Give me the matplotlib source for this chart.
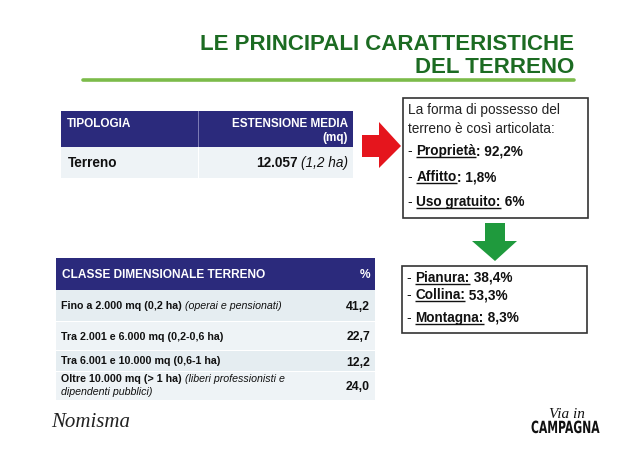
import matplotlib
matplotlib.use('Agg')
import matplotlib.pyplot as plt
from matplotlib.patches import Rectangle, Polygon, PathPatch
from matplotlib.textpath import TextPath
from matplotlib.font_manager import FontProperties
from matplotlib.transforms import Affine2D

plt.rcParams['font.family'] = ['Liberation Sans', 'DejaVu Sans']

# slide content
title_lines = ['LE PRINCIPALI CARATTERISTICHE', 'DEL TERRENO']

top_headers = ['TIPOLOGIA', 'ESTENSIONE MEDIA', '(mq)']
top_type = 'Terreno'
top_value = '12.057'
top_value_note = '(1,2 ha)'

possession_intro = ['La forma di possesso del', 'terreno è così articolata:']
possession_labels = ['Proprietà', 'Affitto', 'Uso gratuito:']
possession_values = [': 92,2%', ': 1,8%', ' 6%']

zone_labels = ['Pianura:', 'Collina:', 'Montagna:']
zone_values = [' 38,4%', ' 53,3%', ' 8,3%']

class_header = ['CLASSE DIMENSIONALE TERRENO', '%']
class_labels = ['Fino a 2.000 mq (0,2 ha)', 'Tra 2.001 e 6.000 mq (0,2-0,6 ha)',
                'Tra 6.001 e 10.000 mq (0,6-1 ha)', 'Oltre 10.000 mq (> 1 ha)']
class_notes = ['(operai e pensionati)', '', '', '(liberi professionisti e\ndipendenti pubblici)']
class_pct = [41.2, 22.7, 12.2, 24.0]

# colours
NAVY = '#2b2a7c'
TITLE_GREEN = '#1c6b22'
LINE_GREEN = '#7cbb4a'
ROW_A = '#e5edf1'
ROW_B = '#eef3f6'
INK = '#111111'

fig = plt.figure(figsize=(6.4, 4.53), dpi=100)
ax = fig.add_axes([0, 0, 1, 1])
ax.set_xlim(0, 640)
ax.set_ylim(453, 0)
ax.axis('off')
renderer = fig.canvas.get_renderer()


def text_width(t):
    # 1 px == 1 data unit on this axes
    return t.get_window_extent(renderer=renderer).width


def draw_runs(x, y, runs, size):
    # runs: (text, weight, style, underline)
    for s, weight, style, underline in runs:
        t = ax.text(x, y, s, fontsize=size, fontweight=weight, fontstyle=style,
                    va='baseline', ha='left', color=INK)
        w = text_width(t)
        if underline:
            ax.plot([x, x + w], [y + 2.2, y + 2.2], color=INK, lw=1.0,
                    solid_capstyle='butt')
        x += w
    return x


# title
for line, yb in zip(title_lines, [50, 73]):
    ax.text(574, yb, line, fontsize=16, fontweight='bold', color=TITLE_GREEN,
            ha='right', va='baseline')
ax.plot([83, 574], [80, 80], color=LINE_GREEN, lw=2.6, solid_capstyle='round')

# top table
ax.add_patch(Rectangle((61, 111), 292, 36, color=NAVY, lw=0))
ax.plot([198, 198], [111, 147], color='#8c8cc0', lw=0.6)
ax.add_patch(Rectangle((61, 147), 292, 31, color=ROW_B, lw=0))
ax.plot([198, 198], [147, 178], color='white', lw=0.8)
ax.text(67, 127, top_headers[0], fontsize=8.5, fontweight='bold', color='white', va='baseline')
ax.text(348, 127, top_headers[1], fontsize=8.5, fontweight='bold', color='white',
        va='baseline', ha='right')
ax.text(348, 141, top_headers[2], fontsize=8.5, fontweight='bold', color='white',
        va='baseline', ha='right')
ax.text(68, 167, top_type, fontsize=9.8, fontweight='bold', color=INK, va='baseline')
note = ax.text(348, 167, top_value_note, fontsize=9.8, fontstyle='italic', color=INK,
               va='baseline', ha='right')
nw = text_width(note)
ax.text(348 - nw - 3, 167, top_value, fontsize=9.8, fontweight='bold', color=INK,
        va='baseline', ha='right')

# red arrow
ax.add_patch(Polygon([(362, 135), (379, 135), (379, 122), (401, 146), (379, 168),
                      (379, 157), (362, 157)], closed=True, color='#e5151d', lw=0))

# possession box
ax.add_patch(Rectangle((403, 98), 185, 120, fill=False, edgecolor='#333333', lw=1.2))
ax.text(408, 114, possession_intro[0], fontsize=9.8, color='#222222', va='baseline')
ax.text(408, 133, possession_intro[1], fontsize=9.8, color='#222222', va='baseline')
for lab, val, yb in zip(possession_labels, possession_values, [155, 181, 206]):
    draw_runs(408, yb, [('- ', 'normal', 'normal', False),
                        (lab, 'bold', 'normal', True),
                        (val, 'bold', 'normal', False)], 9.8)

# green arrow
ax.add_patch(Polygon([(485, 223), (505, 223), (505, 241), (517, 241), (495, 261),
                      (472, 241), (485, 241)], closed=True, color='#1f9a3d', lw=0))

# zone box
ax.add_patch(Rectangle((402, 266), 185, 67, fill=False, edgecolor='#333333', lw=1.2))
for lab, val, yb in zip(zone_labels, zone_values, [282, 299, 322]):
    draw_runs(407, yb, [('- ', 'normal', 'normal', False),
                        (lab, 'bold', 'normal', True),
                        (val, 'bold', 'normal', False)], 9.8)

# bottom table
ax.add_patch(Rectangle((56, 258), 319, 32, color=NAVY, lw=0))
ax.text(62, 278, class_header[0], fontsize=8.6, fontweight='bold', color='white', va='baseline')
ax.text(370, 278, class_header[1], fontsize=8.6, fontweight='bold', color='white',
        va='baseline', ha='right')
row_edges = [290, 322, 351, 372, 401]
for i in range(len(class_labels)):
    y0, y1 = row_edges[i], row_edges[i + 1]
    ax.add_patch(Rectangle((56, y0), 319, y1 - y0 - 1, color=ROW_A if i % 2 == 0 else ROW_B, lw=0))
    ax.text(370, (y0 + y1) / 2 + 4, f'{class_pct[i]:.1f}'.replace('.', ','), fontsize=8.8,
            fontweight='bold', color=INK, va='baseline', ha='right')
    if '\n' in class_notes[i]:
        first, second = class_notes[i].split('\n')
        yb = y0 + 10
        draw_runs(61, yb, [(class_labels[i] + ' ', 'bold', 'normal', False),
                           (first, 'normal', 'italic', False)], 7.7)
        ax.text(61, yb + 13, second, fontsize=7.7, fontstyle='italic', color=INK, va='baseline')
    else:
        yb = (y0 + y1) / 2 + 3
        runs = [(class_labels[i] + ' ', 'bold', 'normal', False)]
        if class_notes[i]:
            runs.append((class_notes[i], 'normal', 'italic', False))
        draw_runs(61, yb, runs, 7.7)

# logos
ax.text(51, 427, 'Nomisma', fontsize=15, fontstyle='italic',
        family=['Liberation Serif', 'DejaVu Serif'], color='#222222', va='baseline')
ax.text(567, 418, 'Via in', fontsize=11, fontstyle='italic',
        family=['Liberation Serif', 'DejaVu Serif'], color=INK, va='baseline', ha='center')
camp = TextPath((0, 0), 'CAMPAGNA', size=15, prop=FontProperties(family='DejaVu Sans', weight='bold'))
cw = camp.get_extents().width
sx = 68 / cw
camp_tr = Affine2D().scale(sx, -1.12).translate(531, 433)
ax.add_patch(PathPatch(camp_tr.transform_path(camp), color=INK, lw=0))

fig.savefig('out.png', dpi=100)
